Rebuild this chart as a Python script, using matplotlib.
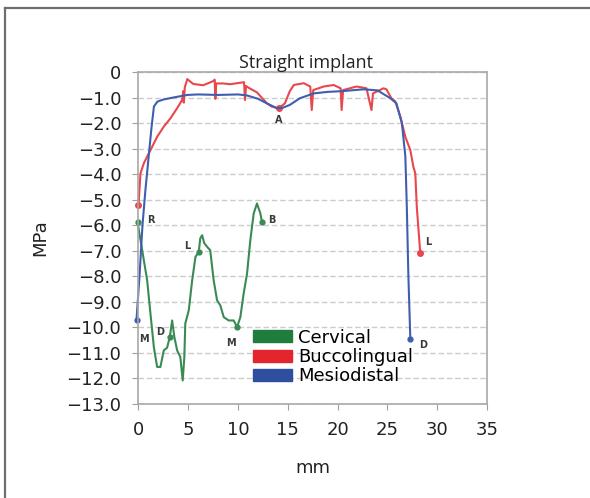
import matplotlib
matplotlib.use("Agg")
import matplotlib.pyplot as plt
from matplotlib.patches import Patch
from matplotlib.lines import Line2D
from matplotlib.ticker import FuncFormatter

# данные (мм, МПа)
cervical_x = [-0.1, 0.37, 0.87, 1.2, 1.54, 1.87, 2.2, 2.54, 2.87, 3.14, 3.38, 3.6, 3.88, 4.2,
              4.44, 4.6, 4.7, 5.05, 5.39, 5.72, 6.05, 6.2, 6.39, 6.6, 6.9, 7.2, 7.55, 7.89,
              8.22, 8.56, 9.06, 9.56, 9.9, 10.23, 10.56, 10.9, 11.23, 11.57, 11.9, 12.24, 12.4]
cervical_y = [-5.87, -6.98, -8.16, -9.46, -10.77, -11.55, -11.55, -10.9, -10.8, -10.38, -9.73,
              -10.38, -10.9, -11.16, -12.08, -11.2, -9.85, -9.33, -8.16, -7.24, -7.05, -6.52,
              -6.39, -6.7, -6.85, -6.98, -8.16, -8.94, -9.14, -9.6, -9.73, -9.73, -9.99, -9.6,
              -8.68, -7.9, -6.59, -5.54, -5.15, -5.54, -5.87]

bucco_x = [0.0, 0.2, 0.53, 1.2, 1.87, 2.54, 3.2, 3.88, 4.38, 4.5, 4.55, 4.65, 4.9, 5.5, 6.5,
           7.55, 7.65, 7.72, 7.8, 8.5, 9.2, 10.6, 10.7, 10.8, 11.2, 11.9, 12.9, 13.4, 14.1,
           14.7, 15.2, 15.6, 16.6, 17.25, 17.4, 17.55, 18.6, 19.6, 20.3, 20.4, 20.55, 21.9,
           22.9, 23.4, 23.55, 24.6, 24.9, 25.4, 25.8, 26.3, 26.8, 27.3, 27.6, 27.8, 27.95, 28.3]
bucco_y = [-5.2, -3.97, -3.58, -3.06, -2.54, -2.14, -1.82, -1.42, -1.1, -0.75, -1.2, -0.6,
           -0.28, -0.47, -0.52, -0.35, -0.3, -1.05, -0.45, -0.45, -0.48, -0.4, -1.1, -0.55,
           -0.65, -0.8, -1.23, -1.36, -1.42, -1.23, -0.75, -0.51, -0.44, -0.57, -1.49, -0.71,
           -0.57, -0.51, -0.64, -1.49, -0.71, -0.57, -0.64, -1.49, -0.84, -0.64, -0.68, -1.03,
           -1.16, -1.75, -2.54, -3.06, -3.7, -3.97, -5.28, -7.1]

mesio_x = [-0.2, 0.1, 0.4, 0.7, 1.0, 1.3, 1.55, 1.9, 2.5, 3.5, 4.9, 6.0, 8.0, 10.0, 10.9,
           12.0, 12.9, 13.9, 14.5, 15.2, 16.2, 17.6, 19.0, 20.5, 22.6, 24.0, 25.3, 25.9,
           26.45, 26.8, 26.95, 27.1, 27.3]
mesio_y = [-9.7, -8.0, -6.0, -4.6, -3.4, -2.2, -1.35, -1.16, -1.08, -1.0, -0.9, -0.88, -0.9,
           -0.88, -0.92, -1.05, -1.23, -1.42, -1.4, -1.29, -1.03, -0.84, -0.78, -0.75, -0.68,
           -0.72, -1.03, -1.23, -2.0, -3.3, -5.3, -7.9, -10.45]

series_names = ['Cervical', 'Buccolingual', 'Mesiodistal']

# буквенные метки точек
point_labels = ['R', 'L', 'M', 'D', 'M', 'B', 'A', 'L', 'D']
point_x = [1.2, 4.9, 0.5, 2.2, 9.3, 13.4, 14.1, 29.1, 28.6]
point_y = [-5.8, -6.8, -10.45, -10.2, -10.6, -5.8, -1.9, -6.65, -10.7]

plt.rcParams['font.family'] = 'DejaVu Sans'

fig = plt.figure(figsize=(5.9, 4.98), dpi=100)
ax = fig.add_axes([0.2339, 0.1888, 0.5915, 0.6667])

green, red, blue = '#3b8a55', '#e8474c', '#3f5fae'
ax.plot(cervical_x, cervical_y, color=green, lw=1.5, marker='o', ms=3.5,
        markevery=[0, 9, 20, 32, 40], clip_on=False)
ax.plot(bucco_x, bucco_y, color=red, lw=1.5, marker='o', ms=4,
        markevery=[0, 28, len(bucco_x) - 1], clip_on=False)
ax.plot(mesio_x, mesio_y, color=blue, lw=1.5, marker='o', ms=3.5,
        markevery=[0, len(mesio_x) - 1], clip_on=False)

for t, x, y in zip(point_labels, point_x, point_y):
    ax.text(x, y, t, fontsize=7, fontweight='bold', color='#3a3a3a', ha='center', va='center')

ax.set_xlim(-0.05, 35)
ax.set_ylim(-13, 0)
ax.set_xticks(range(0, 36, 5))
ax.set_yticks(range(-13, 1))
ax.yaxis.set_major_formatter(FuncFormatter(lambda v, p: '0' if v == 0 else '\u2212%.1f' % abs(v)))
ax.tick_params(labelsize=13, colors='#a0a0a0', labelcolor='#222222', length=4, pad=8)
ax.grid(axis='y', color='#cccccc', lw=1, ls=(0, (4, 2)))
ax.set_axisbelow(True)
for s in ax.spines.values():
    s.set_color('#a8a8a8')
    s.set_linewidth(1.2)

ax.set_title('Straight implant', fontsize=13, family='Open Sans', x=0.48, pad=1, color='#222222')
ax.set_ylabel('MPa', fontsize=13, color='#222222', labelpad=12)
ax.set_xlabel('mm', fontsize=13, color='#222222', labelpad=15)

handles = [Patch(color=c) for c in ['#1f7d3d', '#e3262d', '#2d4f9e']]
ax.legend(handles, series_names, loc='upper left', bbox_to_anchor=(0.3295, 0.227),
          bbox_transform=ax.transAxes, frameon=False, fontsize=13, borderpad=0,
          borderaxespad=0, handlelength=2.15, handleheight=0.67, handletextpad=0.35,
          labelspacing=0.08)

# рамка рисунка (верх и левый край)
fig.add_artist(Line2D([5 / 590, 1], [1 - 8 / 498, 1 - 8 / 498], color='#6e6e6e', lw=1.6))
fig.add_artist(Line2D([5 / 590, 5 / 590], [0, 1 - 8 / 498], color='#6e6e6e', lw=1.6))

fig.savefig('out.png', dpi=100)
